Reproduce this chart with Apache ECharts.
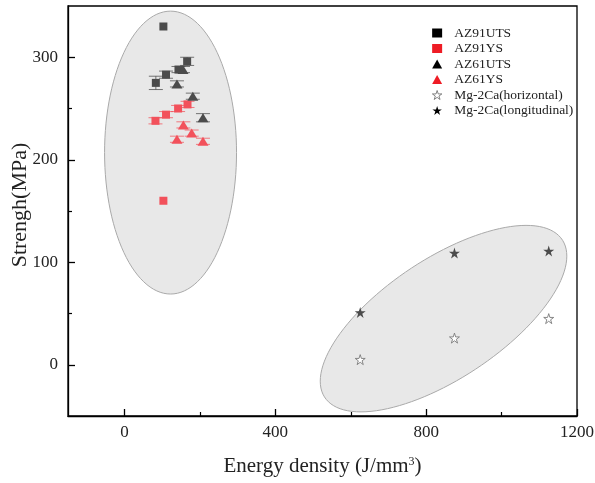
<!DOCTYPE html>
<html>
<head>
<meta charset="utf-8">
<script src="https://cdn.jsdelivr.net/npm/echarts@6/dist/echarts.min.js"></script>
<style>
  html, body { margin: 0; padding: 0; background: #fff; }
  #main { width: 595px; height: 483px; }
</style>
</head>
<body>
<div id="main"></div>
<script>
// AZ91 / AZ61 / Mg-2Ca strength vs energy density
var az91UtsX = [103, 83, 110, 143, 166];
var az91UtsY = [330, 275, 283, 288, 296];
var az91UtsErr = [0, 6.5, 3.5, 3, 4];

var az91YsX = [103, 82, 110, 142, 167];
var az91YsY = [160, 238, 244, 250, 254];
var az91YsErr = [0, 3, 3, 3, 3];

var az61UtsX = [139, 155, 181, 208];
var az61UtsY = [274, 288, 262, 241];
var az61UtsErr = [3, 3, 3, 4];

var az61YsX = [156, 178, 139, 208];
var az61YsY = [234, 226, 220, 218];
var az61YsErr = [3, 3, 3, 3];

var mgX = [625, 875, 1125];
var mgHorizontalY = [5, 26, 45];
var mgLongitudinalY = [51, 109, 111];

// ellipses in data units: centre x, centre y, axis A (dx, dy), axis B (dx, dy)
var ellipseAZ = [122, 207, 175, 0, 0, 138];
var ellipseMg = [846, 45, 327, 61, 0, 67.5];

var xLabels = [0, 400, 800, 1200];
var xMinorTicks = [200, 600, 1000];
var yLabels = [0, 100, 200, 300];
var yMinorTicks = [50, 150, 250];

var DARK = '#4b4b4b';
var RED = '#f2515b';
var FONT = '"Liberation Serif", "DejaVu Serif", serif';
var STAR = 'path://M50 0 L61.2 34.5 L97.6 34.5 L68.2 55.9 L79.4 90.5 L50 69.1 L20.6 90.5 L31.8 55.9 L2.4 34.5 L38.8 34.5 Z';

function zip(xs, ys, es) {
    return xs.map(function (x, i) {
        return es ? [x, ys[i], es[i]] : [x, ys[i]];
    });
}

function ellipseItem(params, api) {
    var cx = api.value(0), cy = api.value(1);
    var ax = api.value(2), ay = api.value(3);
    var bx = api.value(4), by = api.value(5);
    var pts = [];
    for (var i = 0; i < 120; i++) {
        var t = i / 120 * Math.PI * 2;
        pts.push(api.coord([
            cx + ax * Math.cos(t) + bx * Math.sin(t),
            cy + ay * Math.cos(t) + by * Math.sin(t)
        ]));
    }
    return {
        type: 'polygon',
        shape: {points: pts},
        style: {fill: '#e8e8e8', stroke: '#a9a9a9', lineWidth: 1}
    };
}

function errorBars(color) {
    return function (params, api) {
        var e = api.value(2);
        if (!e) {
            return null;
        }
        var x = api.value(0), y = api.value(1);
        var top = api.coord([x, y + e]);
        var bot = api.coord([x, y - e]);
        var w = 7;
        var st = {stroke: color, lineWidth: 1, opacity: 0.75};
        return {
            type: 'group',
            children: [
                {type: 'line', shape: {x1: top[0], y1: top[1], x2: bot[0], y2: bot[1]}, style: st},
                {type: 'line', shape: {x1: top[0] - w, y1: top[1], x2: top[0] + w, y2: top[1]}, style: st},
                {type: 'line', shape: {x1: bot[0] - w, y1: bot[1], x2: bot[0] + w, y2: bot[1]}, style: st}
            ]
        };
    };
}

function errSeries(data, color) {
    return {
        type: 'custom',
        renderItem: errorBars(color),
        data: data,
        encode: {x: 0, y: 1},
        z: 3,
        silent: true
    };
}

function plain(v) {
    return String(v);
}

var chart = echarts.init(document.getElementById('main'));

var option = {
    animation: false,
    textStyle: {fontFamily: FONT},
    grid: {
        left: 68, right: 18, top: 6, bottom: 67,
        outerBoundsMode: 'none',
        containLabel: false,
        show: true, borderColor: '#000', borderWidth: 1.3, backgroundColor: 'transparent'
    },
    legend: {
        orient: 'vertical',
        left: 427,
        top: 21,
        itemWidth: 10,
        itemHeight: 9,
        itemGap: 1.5,
        textStyle: {fontFamily: FONT, fontSize: 13.5, color: '#222', lineHeight: 14, padding: [0, 0, 0, 7]},
        data: [
            {name: 'AZ91UTS', itemStyle: {color: '#000'}},
            {name: 'AZ91YS', itemStyle: {color: '#ee1c25'}},
            {name: 'AZ61UTS', itemStyle: {color: '#000'}},
            {name: 'AZ61YS', itemStyle: {color: '#ee1c25'}},
            {name: 'Mg-2Ca(horizontal)', itemStyle: {color: '#fff', borderColor: '#666', borderWidth: 0.8}},
            {name: 'Mg-2Ca(longitudinal)', itemStyle: {color: '#000', borderWidth: 0}}
        ]
    },
    xAxis: [{
        type: 'value',
        min: -150,
        max: 1200,
        name: 'Energy density (J/mm{sup|3})',
        nameLocation: 'middle',
        nameGap: 40,
        nameMoveOverlap: false,
        nameTextStyle: {
            fontFamily: FONT, fontSize: 21, color: '#222',
            rich: {sup: {fontFamily: FONT, fontSize: 12, color: '#222', verticalAlign: 'top', padding: [0, 0, 8, 0]}}
        },
        axisLine: {onZero: false, lineStyle: {color: '#000', width: 1.3}},
        axisTick: {inside: true, length: 7, customValues: xLabels, lineStyle: {color: '#000', width: 1.3}},
        axisLabel: {customValues: xLabels, formatter: plain, fontFamily: FONT, fontSize: 17, color: '#222', margin: 8},
        splitLine: {show: false}
    }, {
        type: 'value',
        gridIndex: 0,
        position: 'bottom',
        min: -150,
        max: 1200,
        axisLine: {show: false, onZero: false},
        axisTick: {inside: true, length: 4, customValues: xMinorTicks, lineStyle: {color: '#000', width: 1.2}},
        axisLabel: {show: false},
        splitLine: {show: false}
    }],
    yAxis: [{
        type: 'value',
        min: -50,
        max: 350,
        name: 'Strengh(MPa)',
        nameLocation: 'middle',
        nameGap: 37,
        nameMoveOverlap: false,
        nameTextStyle: {fontFamily: FONT, fontSize: 22, color: '#222', padding: [0, 0, 0, 12]},
        axisLine: {onZero: false, lineStyle: {color: '#000', width: 1.3}},
        axisTick: {inside: true, length: 7, customValues: yLabels, lineStyle: {color: '#000', width: 1.3}},
        axisLabel: {customValues: yLabels, formatter: plain, fontFamily: FONT, fontSize: 17, color: '#222', margin: 10},
        splitLine: {show: false}
    }, {
        type: 'value',
        gridIndex: 0,
        position: 'left',
        min: -50,
        max: 350,
        axisLine: {show: false, onZero: false},
        axisTick: {inside: true, length: 4, customValues: yMinorTicks, lineStyle: {color: '#000', width: 1.2}},
        axisLabel: {show: false},
        splitLine: {show: false}
    }],
    series: [
        {
            type: 'custom',
            renderItem: ellipseItem,
            data: [ellipseAZ, ellipseMg],
            encode: {x: 0, y: 1},
            z: 1,
            silent: true
        },
        errSeries(zip(az91UtsX, az91UtsY, az91UtsErr), DARK),
        errSeries(zip(az91YsX, az91YsY, az91YsErr), RED),
        errSeries(zip(az61UtsX, az61UtsY, az61UtsErr), DARK),
        errSeries(zip(az61YsX, az61YsY, az61YsErr), RED),
        {
            name: 'AZ91UTS', type: 'scatter', symbol: 'rect', symbolSize: 8, z: 5,
            itemStyle: {color: DARK, opacity: 1},
            data: zip(az91UtsX, az91UtsY)
        },
        {
            name: 'AZ91YS', type: 'scatter', symbol: 'rect', symbolSize: 8, z: 5,
            itemStyle: {color: RED, opacity: 1},
            data: zip(az91YsX, az91YsY)
        },
        {
            name: 'AZ61UTS', type: 'scatter', symbol: 'triangle', symbolSize: [11, 9], z: 5,
            itemStyle: {color: DARK, opacity: 1},
            data: zip(az61UtsX, az61UtsY)
        },
        {
            name: 'AZ61YS', type: 'scatter', symbol: 'triangle', symbolSize: [11, 9], z: 5,
            itemStyle: {color: RED, opacity: 1},
            data: zip(az61YsX, az61YsY)
        },
        {
            name: 'Mg-2Ca(horizontal)', type: 'scatter', symbol: STAR, symbolSize: 10, z: 5,
            itemStyle: {color: '#fff', borderColor: '#7a7a7a', borderWidth: 0.9, opacity: 1},
            data: zip(mgX, mgHorizontalY)
        },
        {
            name: 'Mg-2Ca(longitudinal)', type: 'scatter', symbol: STAR, symbolSize: 11, z: 5,
            itemStyle: {color: DARK, opacity: 1},
            data: zip(mgX, mgLongitudinalY)
        }
    ]
};

chart.setOption(option);
</script>
</body>
</html>
